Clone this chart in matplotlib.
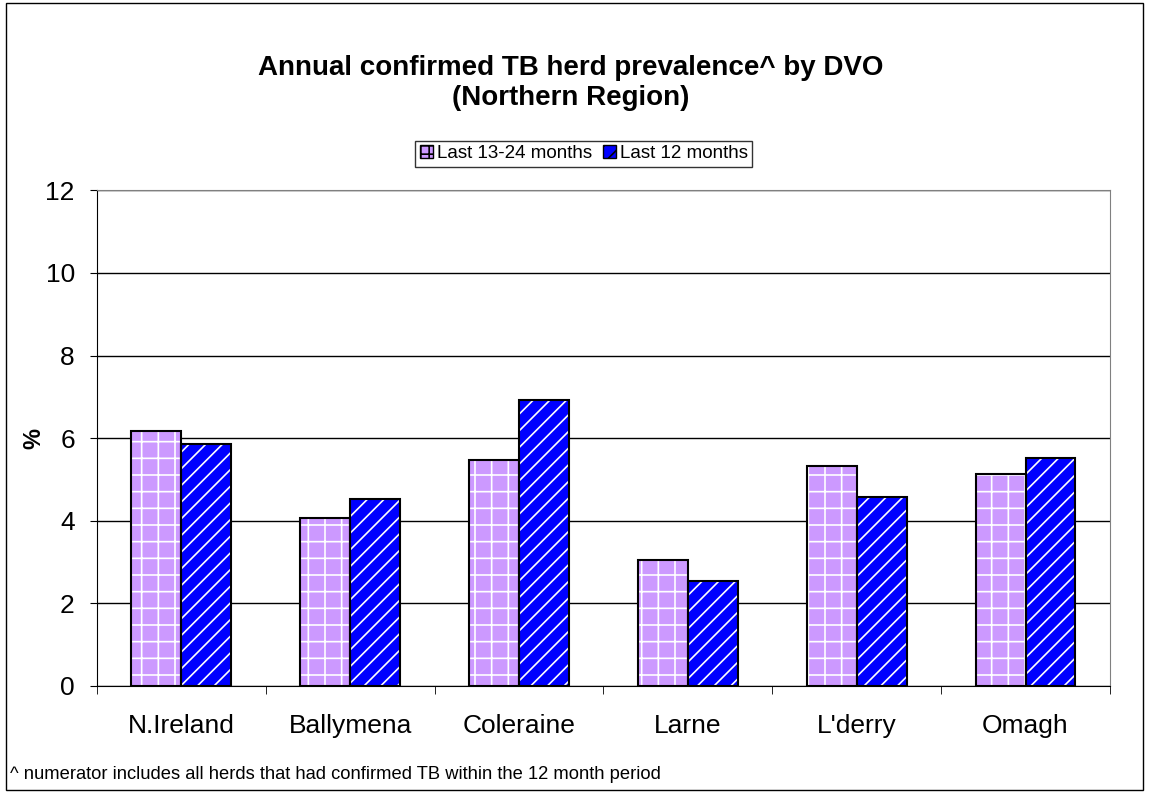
import matplotlib.pyplot as plt
import numpy as np
from matplotlib.patches import Rectangle, Patch

plt.rcParams['font.family'] = ['Liberation Sans', 'DejaVu Sans']
plt.rcParams['hatch.linewidth'] = 1.2

# data
dvos = ['N.Ireland', 'Ballymena', 'Coleraine', 'Larne', "L'derry", 'Omagh']
prev_13_24 = [6.17, 4.06, 5.47, 3.05, 5.32, 5.13]
prev_12 = [5.86, 4.52, 6.92, 2.54, 4.57, 5.52]

purple = '#CC99FF'
blue = '#0000FF'

fig = plt.figure(figsize=(11.49, 7.93), dpi=100)
ax = fig.add_axes([0.0844, 0.135, 0.8816, 0.625])

x = np.arange(len(dvos))
w = 0.296

# filled + hatched bars (white hatch), then black outlines on top
ax.bar(x - w / 2, prev_13_24, w, color=purple, edgecolor='white', hatch='+', linewidth=0, zorder=3)
ax.bar(x + w / 2, prev_12, w, color=blue, edgecolor='white', hatch='//', linewidth=0, zorder=3)
ax.bar(x - w / 2, prev_13_24, w, fill=False, edgecolor='black', linewidth=1.5, zorder=4)
ax.bar(x + w / 2, prev_12, w, fill=False, edgecolor='black', linewidth=1.5, zorder=4)

ax.set_xlim(-0.5, len(dvos) - 0.5)
ax.set_ylim(0, 12)
ax.set_yticks(range(0, 13, 2))
ax.yaxis.grid(True, color='black', linewidth=1)
ax.set_axisbelow(True)

ax.set_xticks(x)
ax.set_xticklabels(dvos, fontsize=19)
ax.tick_params(axis='x', length=0, pad=20)
ax.set_xticks(np.arange(-0.5, len(dvos)), minor=True)
ax.tick_params(axis='x', which='minor', length=6, direction='out')
ax.tick_params(axis='y', labelsize=19, length=5, direction='out', pad=11)

for s in ['top', 'right']:
    ax.spines[s].set_color('#808080')
for s in ['left', 'bottom']:
    ax.spines[s].set_color('black')

ax.set_ylabel('%', fontsize=17, fontweight='bold', labelpad=0)

fig.text(0.497, 0.895, 'Annual confirmed TB herd prevalence^ by DVO\n(Northern Region)',
         ha='center', va='center', fontsize=20, fontweight='bold', linespacing=1.2)

handles = [Patch(facecolor=purple, edgecolor='black', hatch='++'),
           Patch(facecolor=blue, edgecolor='black', hatch='//')]
leg = fig.legend(handles, ['Last 13-24 months', 'Last 12 months'], loc='center',
                 bbox_to_anchor=(0.508, 0.806), ncol=2, fontsize=13.5, frameon=True,
                 fancybox=False, edgecolor='black', handlelength=0.7, handleheight=0.7,
                 handletextpad=0.2, columnspacing=0.6, borderpad=0.25)
leg.get_frame().set_linewidth(1)

fig.text(0.009, 0.023, '^ numerator includes all herds that had confirmed TB within the 12 month period',
         fontsize=13.2, ha='left', va='center')

fig.patches.append(Rectangle((0.005, 0.004), 0.99, 0.992, transform=fig.transFigure,
                             fill=False, edgecolor='black', linewidth=1))

fig.savefig('out.png', dpi=100)
